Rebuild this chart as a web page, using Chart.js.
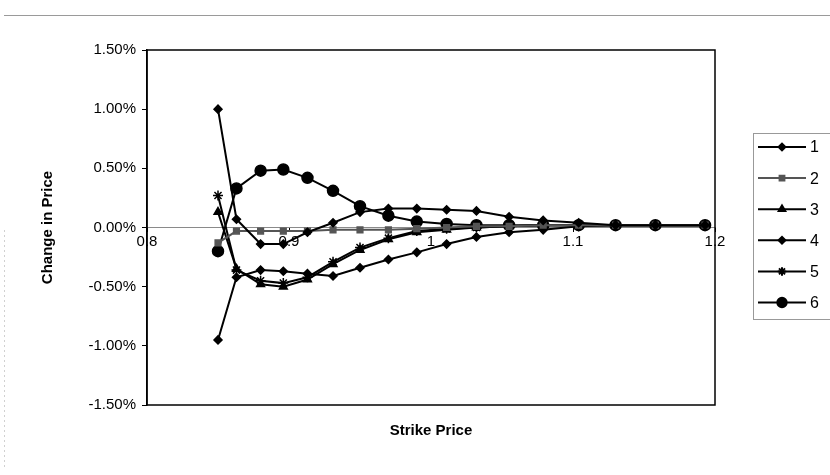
<!DOCTYPE html>
<html><head><meta charset="utf-8">
<script src="https://cdn.jsdelivr.net/npm/chart.js@4/dist/chart.umd.min.js"></script>
<style>html,body{margin:0;padding:0;background:#fff}</style>
</head><body>
<canvas id="c" width="830" height="475"></canvas>
<script>
// ---- data (values in percent) ----
const strikes = [0.85, 0.863, 0.88, 0.896, 0.913, 0.931, 0.95, 0.97, 0.99, 1.011, 1.032, 1.055, 1.079, 1.104, 1.13, 1.158, 1.193];
const series1 = [1.00, 0.07, -0.14, -0.14, -0.04, 0.04, 0.13, 0.16, 0.16, 0.15, 0.14, 0.09, 0.06, 0.04, 0.02, 0.02, 0.02];
const series2 = [-0.13, -0.03, -0.03, -0.03, -0.03, -0.02, -0.02, -0.02, -0.01, 0.00, 0.01, 0.01, 0.02, 0.02, 0.02, 0.02, 0.02];
const series3 = [0.13, -0.35, -0.48, -0.50, -0.44, -0.31, -0.19, -0.10, -0.04, -0.02, 0.00, 0.01, 0.02, 0.02, 0.02, 0.02, 0.02];
const series4 = [-0.95, -0.42, -0.36, -0.37, -0.39, -0.41, -0.34, -0.27, -0.21, -0.14, -0.08, -0.04, -0.02, 0.01, 0.02, 0.02, 0.02];
const series5 = [0.27, -0.36, -0.45, -0.47, -0.42, -0.29, -0.17, -0.09, -0.03, -0.01, 0.00, 0.01, 0.02, 0.02, 0.02, 0.02, 0.02];
const series6 = [-0.20, 0.33, 0.48, 0.49, 0.42, 0.31, 0.18, 0.10, 0.05, 0.03, 0.02, 0.02, 0.02, 0.02, 0.02, 0.02, 0.02];
const seriesLabels = ['1', '2', '3', '4', '5', '6'];
const xTitle = 'Strike Price';
const yTitle = 'Change in Price';

const FONT = 'Liberation Sans, Arial, sans-serif';
const styles = [
  {pointStyle: 'rectRot', radius: 4, color: '#000'},
  {pointStyle: 'rect', radius: 4, color: '#555'},
  {pointStyle: 'triangle', radius: 4.5, color: '#000'},
  {pointStyle: 'rectRot', radius: 4, color: '#000'},
  {pointStyle: 'star', radius: 5, color: '#000'},
  {pointStyle: 'circle', radius: 5.5, color: '#000'}
];
const allSeries = [series1, series2, series3, series4, series5, series6];

const datasets = allSeries.map((vals, i) => ({
  label: seriesLabels[i],
  data: vals.map((v, j) => ({x: strikes[j], y: v})),
  showLine: true,
  tension: 0,
  borderColor: styles[i].color,
  backgroundColor: styles[i].color,
  pointBorderColor: styles[i].color,
  pointBackgroundColor: styles[i].color,
  borderWidth: 2,
  pointStyle: styles[i].pointStyle,
  pointRadius: styles[i].radius,
  pointBorderWidth: 1.5
}));

const decor = {
  id: 'decor',
  beforeDraw(chart) {
    const ctx = chart.ctx;
    ctx.save();
    ctx.fillStyle = '#fff';
    ctx.fillRect(0, 0, chart.width, chart.height);
    ctx.strokeStyle = '#9a9a9a';
    ctx.lineWidth = 1;
    ctx.beginPath();
    ctx.moveTo(4, 15.5); ctx.lineTo(830, 15.5);
    ctx.stroke();
    ctx.strokeStyle = '#d0d0d0';
    ctx.setLineDash([2, 3]);
    ctx.beginPath();
    ctx.moveTo(4.5, 230); ctx.lineTo(4.5, 470);
    ctx.stroke();
    ctx.restore();
  },
  beforeDatasetsDraw(chart) {
    const {ctx, chartArea: a} = chart;
    ctx.save();
    ctx.strokeStyle = '#000';
    ctx.lineWidth = 1.5;
    ctx.strokeRect(a.left, a.top, a.right - a.left, a.bottom - a.top);
    ctx.restore();
  },
  afterDraw(chart) {
    const {ctx, chartArea: a} = chart;
    ctx.save();
    // x title
    ctx.fillStyle = '#000';
    ctx.font = 'bold 15px ' + FONT;
    ctx.textAlign = 'center';
    ctx.textBaseline = 'middle';
    ctx.fillText(xTitle, (a.left + a.right) / 2, 431);
    // legend
    ctx.strokeStyle = '#999';
    ctx.lineWidth = 1;
    ctx.strokeRect(753.5, 133.5, 78, 186);
    chart.data.datasets.forEach((ds, i) => {
      const y = 147 + i * 31.1;
      ctx.strokeStyle = ds.borderColor;
      ctx.lineWidth = 2;
      ctx.beginPath();
      ctx.moveTo(758, y); ctx.lineTo(806, y);
      ctx.stroke();
      ctx.fillStyle = ds.backgroundColor;
      Chart.helpers.drawPoint(ctx, {pointStyle: ds.pointStyle, radius: ds.pointRadius * 0.85, borderWidth: 1.5, rotation: 0}, 782, y);
      ctx.fillStyle = '#000';
      ctx.font = '16px ' + FONT;
      ctx.textAlign = 'left';
      ctx.fillText(ds.label, 810, y + 1);
    });
    ctx.restore();
  }
};

new Chart(document.getElementById('c'), {
  type: 'scatter',
  data: {datasets},
  plugins: [decor],
  options: {
    responsive: false,
    animation: false,
    layout: {padding: {left: 28, top: 50, right: 115, bottom: 70}},
    plugins: {legend: {display: false}, tooltip: {enabled: false}},
    scales: {
      x: {
        type: 'linear',
        position: {y: 0},
        min: 0.8, max: 1.2,
        ticks: {
          stepSize: 0.1, color: '#000', padding: 1, maxRotation: 0,
          font: {family: FONT, size: 15},
          callback: v => String(+v.toFixed(2))
        },
        grid: {drawOnChartArea: false, tickLength: 4, tickColor: '#000'},
        border: {color: '#8a8a8a', width: 1}
      },
      y: {
        min: -1.5, max: 1.5,
        ticks: {
          stepSize: 0.5, color: '#000', padding: 6,
          font: {family: FONT, size: 15},
          callback: v => v.toFixed(2) + '%'
        },
        grid: {drawOnChartArea: false, tickLength: 5, tickColor: '#000'},
        border: {color: '#000', width: 1.5},
        title: {display: true, text: yTitle, color: '#000', font: {family: FONT, size: 15, weight: 'bold'}, padding: {top: 11, bottom: 0}},
        afterFit: s => { s.width = 119; }
      }
    }
  }
});
</script>
</body></html>
